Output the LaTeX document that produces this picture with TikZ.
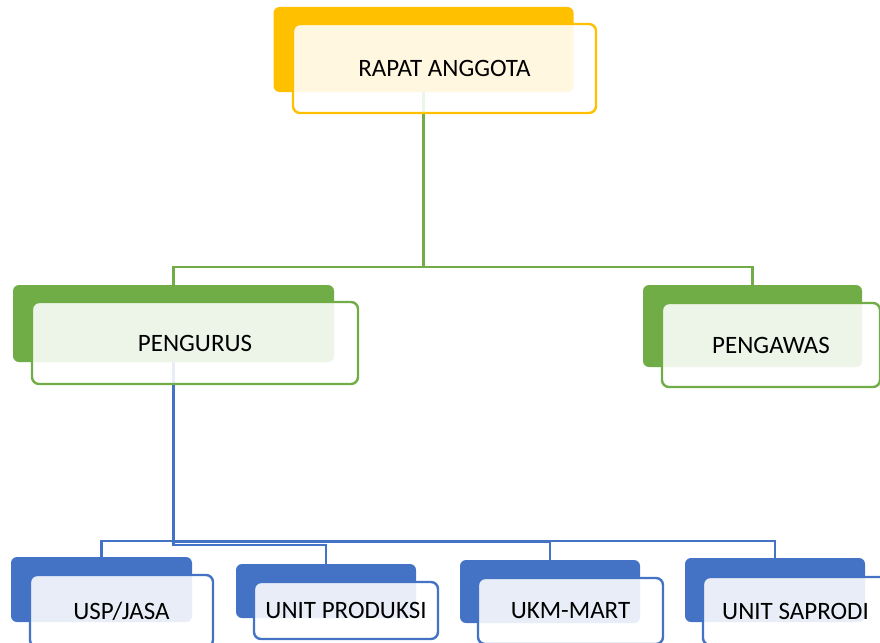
\documentclass[tikz,border=0pt]{standalone}
\usepackage{fontspec}
\setmainfont{Carlito}
\usetikzlibrary{positioning}
\definecolor{gold}{HTML}{FFC000}
\definecolor{leaf}{HTML}{70AD47}
\definecolor{sea}{HTML}{4472C4}
\tikzset{
 backbox/.style={fill=#1, rounded corners=6pt, inner sep=0pt},
 frontbox/.style={draw=#1, line width=2.4pt, fill=white, fill opacity=.88, text opacity=1,
   rounded corners=7pt, inner sep=0pt, font=\fontsize{25}{29}\selectfont},
 link/.style={draw=#1, line width=2.5pt},
}

\begin{document}
\begin{tikzpicture}[x=1pt,y=-1pt]
\useasboundingbox (0,0) rectangle (880,642);

% back plates
\node[backbox=gold, minimum width=300pt, minimum height=85pt] (rapatback) at (423.5,49.5) {};
\node[backbox=leaf, minimum width=321pt, minimum height=77pt] (pengurusback) at (173.5,323.5) {};
\node[backbox=leaf, minimum width=219pt, minimum height=82pt] (pengawasback) at (752.5,326) {};
\node[backbox=sea, minimum width=181pt, minimum height=65pt] (uspback) at (101.5,589.5) {};
\node[backbox=sea, minimum width=180pt, minimum height=54pt] (produksiback) at (326,591) {};
\node[backbox=sea, minimum width=180pt, minimum height=63pt] (martback) at (550,591.5) {};
\node[backbox=sea, minimum width=180pt, minimum height=64pt] (saprodiback) at (775,590) {};

% connectors
\coordinate (gbus) at (423.5,267);
\draw[link=leaf] (rapatback.south) -- (gbus) -| (pengurusback.north);
\draw[link=leaf] (gbus) -| (pengawasback.north);
\foreach \c/\y in {usp/541, produksi/545, mart/542, saprodi/541} {
 \draw[link=sea] (pengurusback.south) |- (\c back.north |- 0,\y) -- (\c back.north);
}

% front cards
\node[frontbox=gold, minimum width=303pt, minimum height=89pt] (rapat) at (444.5,68.5) {RAPAT ANGGOTA};
\node[frontbox=leaf, minimum width=326pt, minimum height=82pt] (pengurus) at (195,343) {PENGURUS};
\node[frontbox=leaf, minimum width=218pt, minimum height=84pt] (pengawas) at (771,345) {PENGAWAS};
\node[frontbox=sea, minimum width=183pt, minimum height=72pt] (usp) at (121.5,611) {USP/JASA};
\node[frontbox=sea, minimum width=184pt, minimum height=57pt] (produksi) at (346,610.5) {UNIT PRODUKSI};
\node[frontbox=sea, minimum width=185pt, minimum height=66pt] (mart) at (570.5,611) {UKM-MART};
\node[frontbox=sea, minimum width=185pt, minimum height=68pt] (saprodi) at (795.5,611) {UNIT SAPRODI};
\end{tikzpicture}
\end{document}
